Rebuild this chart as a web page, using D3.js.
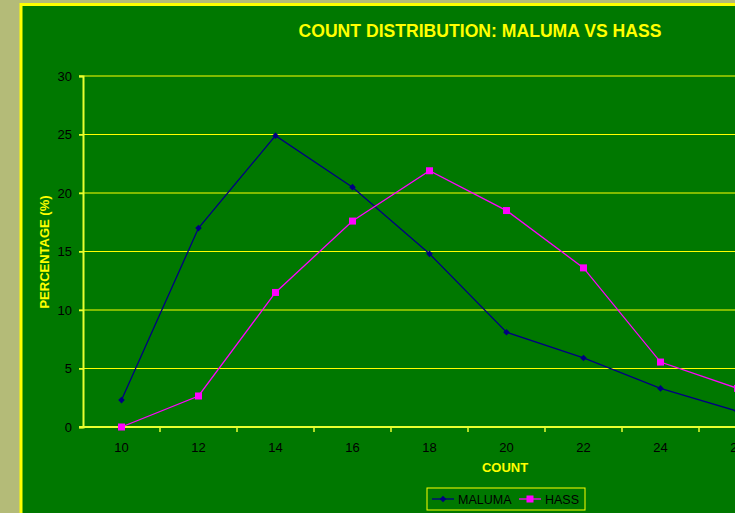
<!DOCTYPE html>
<html>
<head>
<meta charset="utf-8">
<script src="https://cdn.jsdelivr.net/npm/d3@7"></script>
<style>
  body { margin: 0; background: #ffffff; }
  text { font-family: Arial, "Liberation Sans", sans-serif; }
</style>
</head>
<body>
<div id="vis"></div>
<script>
// data
var counts = ['10', '12', '14', '16', '18', '20', '22', '24', '26', '28', '30'];
var maluma = [2.3, 17.0, 24.9, 20.5, 14.8, 8.1, 5.9, 3.3, 1.35];
var hass = [0.0, 2.65, 11.5, 17.6, 21.9, 18.5, 13.6, 5.55, 3.3];
var yTicks = [0, 5, 10, 15, 20, 25, 30];

var width = 744;
var height = 513;
var plot = { left: 83, top: 76, bottom: 427, band: 77 };

var svg = d3.select('#vis')
  .append('svg')
  .attr('width', width)
  .attr('height', height);

// slide background + chart frame
svg.append('rect').attr('width', width).attr('height', height).attr('fill', '#ffffff');
svg.append('rect').attr('x', 0).attr('y', 0).attr('width', 735).attr('height', height).attr('fill', '#b4bb78');
svg.append('rect').attr('x', 21).attr('y', 4).attr('width', 714).attr('height', height)
  .attr('fill', '#007800');
svg.append('line').attr('x1', 21).attr('x2', 21).attr('y1', 3).attr('y2', height)
  .attr('stroke', '#ffff00').attr('stroke-width', 3);
svg.append('line').attr('x1', 20).attr('x2', 735).attr('y1', 4.5).attr('y2', 4.5)
  .attr('stroke', '#ffff00').attr('stroke-width', 3);

svg.append('clipPath').attr('id', 'clip')
  .append('rect').attr('x', 0).attr('y', 0).attr('width', 735).attr('height', height);

var g = svg.append('g').attr('clip-path', 'url(#clip)');

var x = d3.scaleBand()
  .domain(counts)
  .range([plot.left, plot.left + counts.length * plot.band]);

var y = d3.scaleLinear()
  .domain([0, 30])
  .range([plot.bottom, plot.top]);

// gridlines
g.selectAll('.grid')
  .data(yTicks.slice(1))
  .enter()
  .append('line')
  .attr('x1', plot.left - 4)
  .attr('x2', x.range()[1])
  .attr('y1', function (d) { return y(d); })
  .attr('y2', function (d) { return y(d); })
  .attr('stroke', '#ffff00')
  .attr('stroke-width', 1.2);

// y axis
var yAxis = g.append('g')
  .attr('transform', 'translate(' + plot.left + ',0)')
  .call(d3.axisLeft(y).tickValues(yTicks).tickSize(4).tickPadding(7));
yAxis.select('.domain').attr('stroke', '#e8ff30').attr('stroke-width', 2);
yAxis.selectAll('.tick line').attr('stroke', '#e8ff30').attr('stroke-width', 1.5);
yAxis.selectAll('.tick text').attr('fill', '#000000').attr('font-size', 13);

// x axis: ticks at band boundaries, labels at centers
var xAxis = g.append('g')
  .attr('transform', 'translate(0,' + plot.bottom + ')');
xAxis.append('line')
  .attr('x1', plot.left - 4).attr('x2', x.range()[1])
  .attr('stroke', '#e8ff30').attr('stroke-width', 2);
xAxis.selectAll('.xt')
  .data(counts)
  .enter()
  .append('line')
  .attr('x1', function (d) { return x(d) + x.bandwidth(); })
  .attr('x2', function (d) { return x(d) + x.bandwidth(); })
  .attr('y1', 0).attr('y2', 5)
  .attr('stroke', '#e8ff30').attr('stroke-width', 1.5);
xAxis.selectAll('.xl')
  .data(counts)
  .enter()
  .append('text')
  .attr('x', function (d) { return x(d) + x.bandwidth() / 2; })
  .attr('y', 25)
  .attr('text-anchor', 'middle')
  .attr('font-size', 13)
  .attr('fill', '#000000')
  .text(function (d) { return d; });

function cx(i) { return x(counts[i]) + x.bandwidth() / 2; }

var line = d3.line()
  .x(function (d, i) { return cx(i); })
  .y(function (d) { return y(d); });

g.append('path').datum(maluma)
  .attr('d', line).attr('fill', 'none')
  .attr('stroke', '#000080').attr('stroke-width', 1.3);
g.append('path').datum(hass)
  .attr('d', line).attr('fill', 'none')
  .attr('stroke', '#ff00ff').attr('stroke-width', 1.3);

// rotated square = diamond marker
var diamond = d3.symbol().type(d3.symbolSquare).size(22);

g.selectAll('.mal')
  .data(maluma)
  .enter()
  .append('path')
  .attr('d', diamond)
  .attr('transform', function (d, i) { return 'translate(' + cx(i) + ',' + y(d) + ') rotate(45)'; })
  .attr('fill', '#000080');

g.selectAll('.has')
  .data(hass)
  .enter()
  .append('rect')
  .attr('x', function (d, i) { return cx(i) - 3.5; })
  .attr('y', function (d) { return y(d) - 3.5; })
  .attr('width', 7).attr('height', 7)
  .attr('fill', '#ff00ff');

// titles
svg.append('text')
  .attr('x', 480).attr('y', 37)
  .attr('text-anchor', 'middle')
  .attr('font-size', 17.6).attr('font-weight', 'bold')
  .attr('fill', '#ffff00')
  .text('COUNT DISTRIBUTION: MALUMA VS HASS');

svg.append('text')
  .attr('transform', 'translate(49,252) rotate(-90)')
  .attr('text-anchor', 'middle')
  .attr('font-size', 13).attr('font-weight', 'bold')
  .attr('fill', '#ffff00')
  .text('PERCENTAGE (%)');

svg.append('text')
  .attr('x', 505).attr('y', 472)
  .attr('text-anchor', 'middle')
  .attr('font-size', 13).attr('font-weight', 'bold')
  .attr('fill', '#ffff00')
  .text('COUNT');

// legend
var legend = svg.append('g').attr('transform', 'translate(427,488)');
legend.append('rect')
  .attr('width', 158).attr('height', 22)
  .attr('fill', 'none').attr('stroke', '#ffff00').attr('stroke-width', 1);
legend.append('line').attr('x1', 5).attr('x2', 27).attr('y1', 11).attr('y2', 11)
  .attr('stroke', '#000080').attr('stroke-width', 1.3);
legend.append('path').attr('d', diamond).attr('transform', 'translate(16,11) rotate(45)').attr('fill', '#000080');
legend.append('text').attr('x', 31).attr('y', 15.5).attr('font-size', 12.5).attr('fill', '#000000').text('MALUMA');
legend.append('line').attr('x1', 92).attr('x2', 114).attr('y1', 11).attr('y2', 11)
  .attr('stroke', '#ff00ff').attr('stroke-width', 1.3);
legend.append('rect').attr('x', 99.5).attr('y', 7.5).attr('width', 7).attr('height', 7).attr('fill', '#ff00ff');
legend.append('text').attr('x', 118).attr('y', 15.5).attr('font-size', 12.5).attr('fill', '#000000').text('HASS');
</script>
</body>
</html>
